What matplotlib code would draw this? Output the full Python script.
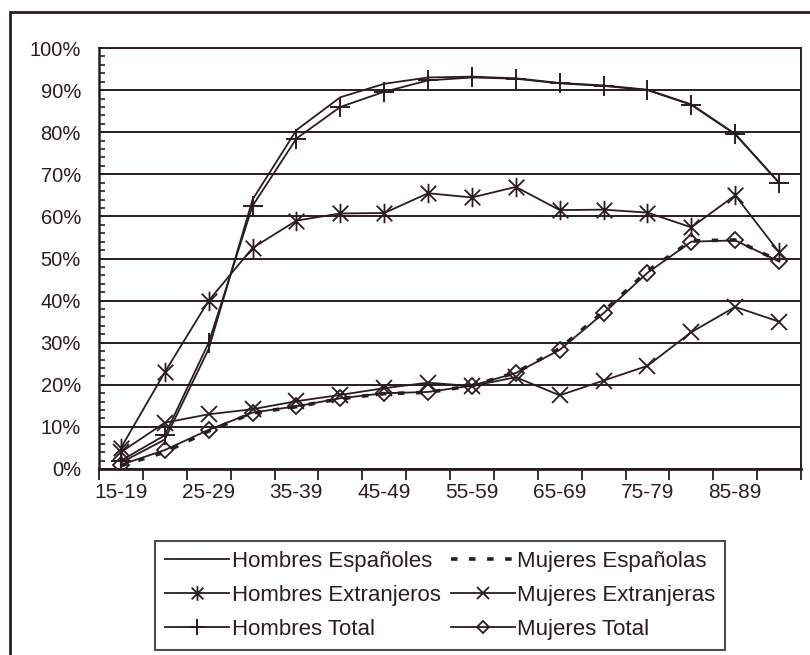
import numpy as np
import matplotlib
matplotlib.use("Agg")
import matplotlib.pyplot as plt
from matplotlib.path import Path
from matplotlib.patches import Rectangle
from matplotlib.ticker import FuncFormatter, MultipleLocator

plt.rcParams['font.family'] = ['Liberation Sans', 'DejaVu Sans']

categories = ['15-19', '20-24', '25-29', '30-34', '35-39', '40-44', '45-49', '50-54',
              '55-59', '60-64', '65-69', '70-74', '75-79', '80-84', '85-89', '90 y más']
shown_labels = ['15-19', '25-29', '35-39', '45-49', '55-59', '65-69', '75-79', '85-89']

hombres_espanoles = [1.5, 7.0, 28.5, 64.0, 80.5, 88.3, 91.5, 93.0, 93.2, 92.8, 91.7, 91.1, 90.1, 86.6, 79.6, 68.0]
hombres_total = [2.0, 8.0, 30.0, 62.5, 78.5, 86.0, 89.6, 92.3, 93.0, 92.7, 91.6, 91.0, 90.0, 86.5, 79.5, 68.0]
hombres_extranjeros = [5.0, 23.0, 40.0, 52.5, 59.0, 60.7, 60.8, 65.5, 64.5, 67.0, 61.5, 61.6, 60.9, 57.4, 65.0, 51.5]
mujeres_espanolas = [0.8, 4.0, 9.0, 13.3, 14.8, 16.7, 17.9, 18.2, 19.8, 22.9, 28.6, 37.4, 47.0, 54.2, 54.4, 49.4]
mujeres_total = [1.0, 4.5, 9.3, 13.4, 14.9, 16.8, 18.0, 18.3, 19.8, 22.8, 28.3, 37.0, 46.6, 54.0, 54.3, 49.3]
mujeres_extranjeras = [4.0, 11.0, 13.0, 14.2, 16.1, 17.6, 19.2, 20.5, 19.7, 21.8, 17.5, 21.0, 24.5, 32.5, 38.5, 35.0]

INK = '#2b1d1f'

# asterisk marker (X plus vertical bar)
ast = Path([(-1, -1), (1, 1), (-1, 1), (1, -1), (0, -1.25), (0, 1.25)],
           [Path.MOVETO, Path.LINETO, Path.MOVETO, Path.LINETO, Path.MOVETO, Path.LINETO])

W, H = 810, 655
fig = plt.figure(figsize=(W / 100, H / 100), dpi=100)
fig.patch.set_facecolor('white')

left, right, top, bottom = 99, 801, 48, 469
ax = fig.add_axes([left / W, 1 - bottom / H, (right - left) / W, (bottom - top) / H])

x = np.arange(len(categories))
lw = 1.3
ax.plot(x, hombres_espanoles, color=INK, lw=lw, label='Hombres Españoles', zorder=3)
ax.plot(x, hombres_extranjeros, color=INK, lw=lw, marker=ast, markersize=14, mew=1.3,
        label='Hombres Extranjeros', zorder=3)
ax.plot(x, hombres_total, color=INK, lw=lw, marker='+', markersize=15, mew=1.4,
        label='Hombres Total', zorder=3)
ax.plot(x, mujeres_espanolas, color=INK, lw=2.6, dashes=(1.8, 3.2),
        label='Mujeres Españolas', zorder=3)
ax.plot(x, mujeres_extranjeras, color=INK, lw=lw, marker='x', markersize=12, mew=1.3,
        label='Mujeres Extranjeras', zorder=3)
ax.plot(x, mujeres_total, color=INK, lw=lw, marker='D', markersize=8, mew=1.3,
        mfc='none', label='Mujeres Total', zorder=3)

ax.set_xlim(-0.5, len(categories) - 0.5)
ax.set_ylim(0, 100)

# y axis
ax.yaxis.set_major_locator(MultipleLocator(10))
ax.yaxis.set_minor_locator(MultipleLocator(2))
ax.yaxis.set_major_formatter(FuncFormatter(lambda v, p: f'{int(round(v))}%'))
ax.tick_params(axis='y', which='both', direction='in', color=INK, width=1.2, labelsize=14.5,
               labelcolor=INK, pad=13)
ax.tick_params(axis='y', which='major', length=4)
ax.tick_params(axis='y', which='minor', length=4)
ax.grid(axis='y', which='major', color=INK, lw=1.4, zorder=1)

# x axis: tick marks between categories, labels on every other category
ax.set_xticks(np.arange(-0.5, len(categories), 1))
ax.set_xticklabels([''] * len(np.arange(-0.5, len(categories), 1)))
ax.set_xticks([categories.index(c) for c in shown_labels], minor=True)
ax.set_xticklabels(shown_labels, minor=True)
ax.tick_params(axis='x', which='major', direction='out', length=8, width=1.3, color=INK)
ax.tick_params(axis='x', which='minor', length=0, labelsize=15, labelcolor=INK, pad=10)

for s in ax.spines.values():
    s.set_color(INK)
    s.set_linewidth(1.4)
ax.spines['bottom'].set_linewidth(2.0)
ax.spines['left'].set_linewidth(1.8)

# legend: two columns, three rows
h, l = ax.get_legend_handles_labels()
leg = fig.legend(h, l, ncol=2, loc='upper left',
                 bbox_to_anchor=(155 / W, 1 - 541 / H), bbox_transform=fig.transFigure,
                 frameon=True, fancybox=False, fontsize=16, handlelength=2.9,
                 labelspacing=0.58, columnspacing=0.45, handletextpad=0.1,
                 borderpad=0.45, borderaxespad=0, markerscale=0.75)
leg.get_frame().set_edgecolor(INK)
leg.get_frame().set_linewidth(1.5)
for t in leg.get_texts():
    t.set_color(INK)

# outer chart-area border (left and top visible)
fig.add_artist(Rectangle((10 / W, -0.2), 1.2, 1.2 - 12 / H,
                         transform=fig.transFigure, fill=False, edgecolor=INK, lw=2.0,
                         clip_on=False))

fig.savefig('out.png', dpi=100, facecolor='white')
